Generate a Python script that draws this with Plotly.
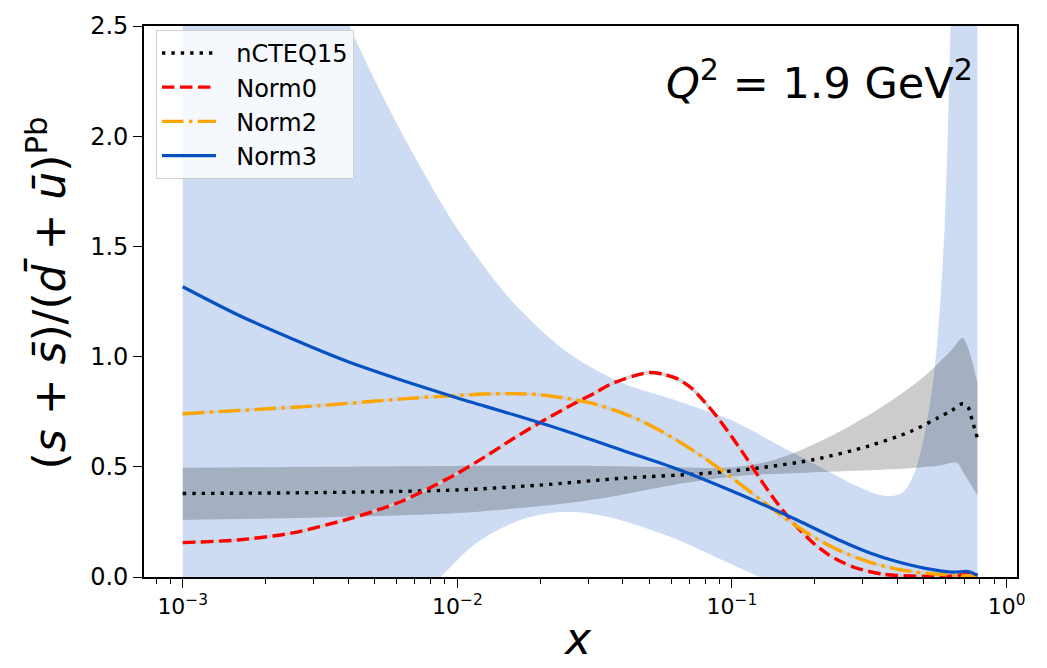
import plotly.graph_objects as go

# ---------------- data ----------------
x_norm3 = [0.001, 0.001585, 0.002512, 0.003981, 0.00631, 0.01, 0.01585, 0.02512, 0.03981,
           0.0631, 0.1, 0.1585, 0.2512, 0.3162, 0.3981, 0.5012, 0.631, 0.7244, 0.7834]
y_norm3 = [1.317, 1.19, 1.08, 0.978, 0.892, 0.812, 0.738, 0.66, 0.575,
           0.49, 0.39, 0.28, 0.162, 0.11, 0.07, 0.04, 0.022, 0.025, 0.008]

x_norm0 = [0.001, 0.001585, 0.002512, 0.003981, 0.005012, 0.00631, 0.007943, 0.01, 0.01259,
           0.01585, 0.01995, 0.02512, 0.03162, 0.03548, 0.03981, 0.04467, 0.05012, 0.05623,
           0.0631, 0.07079, 0.07943, 0.08913, 0.1, 0.1122, 0.1259, 0.1413, 0.1585, 0.1778,
           0.1995, 0.2239, 0.2512, 0.2818, 0.3162, 0.3548, 0.3981, 0.5012, 0.631, 0.7079, 0.7834]
y_norm0 = [0.156, 0.168, 0.2, 0.262, 0.3, 0.345, 0.405, 0.47, 0.545,
           0.625, 0.70, 0.77, 0.835, 0.87, 0.895, 0.915, 0.928, 0.92,
           0.90, 0.86, 0.795, 0.72, 0.635, 0.545, 0.45, 0.36, 0.28, 0.21,
           0.15, 0.103, 0.068, 0.042, 0.025, 0.013, 0.007, 0.003, 0.004, 0.012, 0.008]

x_norm2 = [0.001, 0.003162, 0.00631, 0.01, 0.01259, 0.01585, 0.01995, 0.02512, 0.03162,
           0.03981, 0.05012, 0.0631, 0.07943, 0.1, 0.1259, 0.1585, 0.1995, 0.2512, 0.3162,
           0.3981, 0.5012, 0.631, 0.7834]
y_norm2 = [0.741, 0.778, 0.808, 0.824, 0.83, 0.832, 0.827, 0.81, 0.785,
           0.745, 0.69, 0.62, 0.54, 0.45, 0.355, 0.26, 0.18, 0.115, 0.068,
           0.036, 0.018, 0.009, 0.005]

x_ncteq = [0.001, 0.003162, 0.01, 0.01995, 0.03981, 0.07943, 0.1259, 0.1995, 0.3162,
           0.4467, 0.5623, 0.631, 0.6918, 0.7244, 0.7499, 0.7834]
y_ncteq = [0.379, 0.383, 0.395, 0.417, 0.448, 0.47, 0.495, 0.533, 0.595,
           0.66, 0.722, 0.755, 0.786, 0.77, 0.71, 0.63]

# nCTEQ15 uncertainty band
x_ncteq_up = [0.001, 0.003162, 0.01, 0.03162, 0.0631, 0.08913, 0.1122, 0.1413, 0.1778,
              0.2512, 0.3548, 0.5012, 0.631, 0.6918, 0.7834]
ncteq_upper = [0.496, 0.50, 0.504, 0.504, 0.498, 0.495, 0.505, 0.53, 0.575,
               0.665, 0.775, 0.91, 1.03, 1.085, 0.88]
x_ncteq_lo = [0.001, 0.003162, 0.01, 0.02512, 0.03548, 0.05623, 0.07943, 0.1122, 0.1585,
              0.2512, 0.3981, 0.5623, 0.6607, 0.6918, 0.7834]
ncteq_lower = [0.259, 0.27, 0.29, 0.335, 0.362, 0.41, 0.44, 0.462, 0.47,
               0.48, 0.49, 0.505, 0.518, 0.48, 0.37]

# Norm3 uncertainty band
x_norm3_up = [0.001, 0.001585, 0.002512, 0.003981, 0.00631, 0.01, 0.01585, 0.02512, 0.03981,
              0.0631, 0.1, 0.1585, 0.2239, 0.2818, 0.3388, 0.3715, 0.4074, 0.4365, 0.4677,
              0.5012, 0.537, 0.5623, 0.5957, 0.6252, 0.6607, 0.7834]
norm3_upper = [6.0, 4.3, 3.2, 2.52, 2.01, 1.58, 1.25, 1.02, 0.88,
               0.80, 0.71, 0.578, 0.48, 0.415, 0.375, 0.366, 0.375, 0.41, 0.49,
               0.64, 0.86, 1.1, 1.6, 2.5, 4.0, 6.0]
x_norm3_lo = [0.001, 0.002512, 0.005012, 0.007079, 0.00871, 0.01122, 0.01413, 0.01778,
              0.02239, 0.02818, 0.03548, 0.04467, 0.0631, 0.08913, 0.1259, 0.1995,
              0.3981, 0.7834]
norm3_lower = [-2.0, -0.9, -0.35, -0.12, 0.0, 0.135, 0.215, 0.268,
               0.292, 0.293, 0.272, 0.237, 0.17, 0.085, 0.0, -0.12,
               -0.3, -0.5]

x_tick_vals = [0.001, 0.01, 0.1, 1]
x_tick_text = ["10<sup>\u22123</sup>", "10<sup>\u22122</sup>", "10<sup>\u22121</sup>", "10<sup>0</sup>"]
y_tick_vals = [0.0, 0.5, 1.0, 1.5, 2.0, 2.5]
y_tick_text = ["0.0", "0.5", "1.0", "1.5", "2.0", "2.5"]

# ---------------- styles ----------------
BLUE = "#0652C5"
LW = 3.4
FONT = "DejaVu Sans"
SP = dict(shape="spline", smoothing=0.8)
PAD = "\u00a0\u00a0"

fig = go.Figure()

# Norm3 band
fig.add_trace(go.Scatter(x=x_norm3_lo, y=norm3_lower, mode="lines", showlegend=False,
                         hoverinfo="skip", line=dict(width=0, **SP)))
fig.add_trace(go.Scatter(x=x_norm3_up, y=norm3_upper, mode="lines", showlegend=False,
                         hoverinfo="skip", fill="tonexty", fillcolor="rgba(6,82,197,0.2)",
                         line=dict(width=0, **SP)))
# nCTEQ15 band
fig.add_trace(go.Scatter(x=x_ncteq_lo, y=ncteq_lower, mode="lines", showlegend=False,
                         hoverinfo="skip", line=dict(width=0, **SP)))
fig.add_trace(go.Scatter(x=x_ncteq_up, y=ncteq_upper, mode="lines", showlegend=False,
                         hoverinfo="skip", fill="tonexty", fillcolor="rgba(0,0,0,0.2)",
                         line=dict(width=0, **SP)))

# light underlays for dashed curves
for xs, ys in [(x_norm0, y_norm0), (x_norm2, y_norm2)]:
    fig.add_trace(go.Scatter(x=xs, y=ys, mode="lines", showlegend=False, hoverinfo="skip",
                             line=dict(color="rgba(205,205,205,0.85)", width=LW, **SP)))

fig.add_trace(go.Scatter(x=x_ncteq, y=y_ncteq, mode="lines", name=PAD + "nCTEQ15",
                         line=dict(color="black", width=LW, dash="3.4px,6px", **SP)))
fig.add_trace(go.Scatter(x=x_norm0, y=y_norm0, mode="lines", name=PAD + "Norm0",
                         line=dict(color="#ff0000", width=LW, dash="12.5px,5.5px", **SP)))
fig.add_trace(go.Scatter(x=x_norm2, y=y_norm2, mode="lines", name=PAD + "Norm2",
                         line=dict(color="#ffa500", width=LW, dash="21.5px,5.5px,3.4px,5.5px", **SP)))
fig.add_trace(go.Scatter(x=x_norm3, y=y_norm3, mode="lines", name=PAD + "Norm3",
                         line=dict(color=BLUE, width=3.2, **SP)))

minor_vals = [m * 10.0 ** e for e in range(-4, 1) for m in range(2, 10)]

fig.update_layout(
    width=1047, height=668,
    margin=dict(l=144, r=30, t=18, b=91),
    paper_bgcolor="white", plot_bgcolor="white",
    font=dict(family=FONT, color="black", size=22),
    showlegend=True,
    legend=dict(x=0.0137, y=0.993, xanchor="left", yanchor="top", traceorder="normal",
                bgcolor="rgba(255,255,255,0.8)", bordercolor="#d0d0d0", borderwidth=1,
                font=dict(family=FONT, size=24), itemwidth=54, tracegroupgap=0),
    xaxis=dict(type="log", range=[-3.141, 0.038], showgrid=False, zeroline=False,
               showline=True, linecolor="black", linewidth=1.6, mirror=True,
               ticks="outside", ticklen=9, tickwidth=1.4, tickcolor="black",
               tickvals=x_tick_vals, ticktext=x_tick_text, tickfont=dict(size=22),
               minor=dict(ticks="outside", ticklen=5, tickwidth=1.1, tickcolor="black",
                          tickvals=minor_vals, showgrid=False)),
    yaxis=dict(range=[0, 2.5], showgrid=False, zeroline=False,
               showline=True, linecolor="black", linewidth=1.6, mirror=True,
               ticks="outside", ticklen=9, tickwidth=1.4, tickcolor="black",
               tickvals=y_tick_vals, ticktext=y_tick_text, tickfont=dict(size=24)),
    annotations=[
        dict(text="(<i>s</i> + <i>s\u0304</i>)/(<i>d\u0304</i> + <i>u\u0304</i>)<sup>Pb</sup>",
             xref="paper", yref="paper", x=-0.112, y=0.515, xanchor="center", yanchor="middle",
             textangle=-90, showarrow=False, font=dict(family=FONT, size=44)),
        dict(text="<i>x</i>", xref="paper", yref="paper", x=0.497, y=-0.1610,
             xanchor="center", yanchor="bottom", showarrow=False, font=dict(family=FONT, size=44)),
        dict(text="<i>Q</i><sup>2</sup> = 1.9 GeV<sup>2</sup>", xref="paper", yref="paper",
             x=0.952, y=0.957, xanchor="right", yanchor="top", showarrow=False,
             font=dict(family=FONT, size=43)),
    ],
)

fig.write_html("out.html")
